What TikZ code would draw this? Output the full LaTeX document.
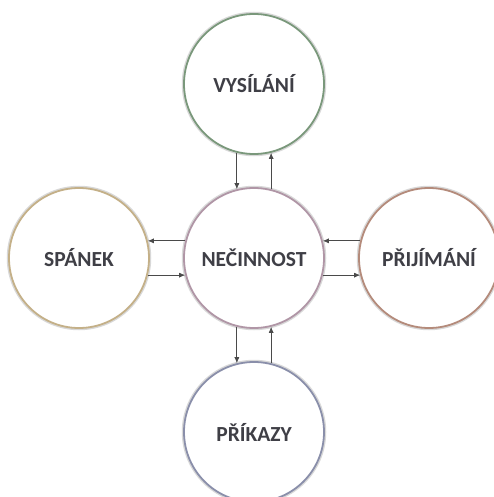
\documentclass[tikz,border=0pt]{standalone}
\usepackage{fontspec}
\setmainfont{Carlito}
\usetikzlibrary{arrows.meta}
\definecolor{txt}{HTML}{3F3F46}
\definecolor{cgreen}{HTML}{7A987B}
\definecolor{cmauve}{HTML}{B096A6}
\definecolor{ctan}{HTML}{C4B088}
\definecolor{cbrown}{HTML}{B48B7B}
\definecolor{cblue}{HTML}{8A8FAA}
\definecolor{arrowgray}{HTML}{4A4A4A}
\tikzset{
  state/.style={circle, draw=#1, line width=1.8pt, fill=white, minimum size=140pt, inner sep=0pt,
    font=\fontsize{21.5}{25}\selectfont\bfseries, text=txt,
    preaction={draw=black!50, line width=4.5pt, opacity=0.3}},
  conn/.style={draw=arrowgray, line width=0.8pt, -{Latex[length=6pt,width=5pt]}}
}
\begin{document}
\begin{tikzpicture}[x=1pt,y=-1pt]
\useasboundingbox (0,0) rectangle (494,497);
\fill[white] (0,0) rectangle (494,497);
\node[state=cgreen] (vys) at (254,84) {VYSÍLÁNÍ};
\node[state=cmauve] (nec) at (254,258) {NEČINNOST};
\node[state=ctan] (spa) at (79,258) {SPÁNEK};
\node[state=cbrown] (pri) at (429,258) {PŘIJÍMÁNÍ};
\node[state=cblue] (pka) at (254,432) {PŘÍKAZY};
% top pair
\draw[conn] (vys.256) -- (nec.104);
\draw[conn] (nec.76) -- (vys.284);
% left pair
\draw[conn] (nec.166) -- (spa.14);
\draw[conn] (spa.346) -- (nec.194);
% right pair
\draw[conn] (pri.166) -- (nec.14);
\draw[conn] (nec.346) -- (pri.194);
% bottom pair
\draw[conn] (nec.256) -- (pka.104);
\draw[conn] (pka.76) -- (nec.284);
\end{tikzpicture}
\end{document}
